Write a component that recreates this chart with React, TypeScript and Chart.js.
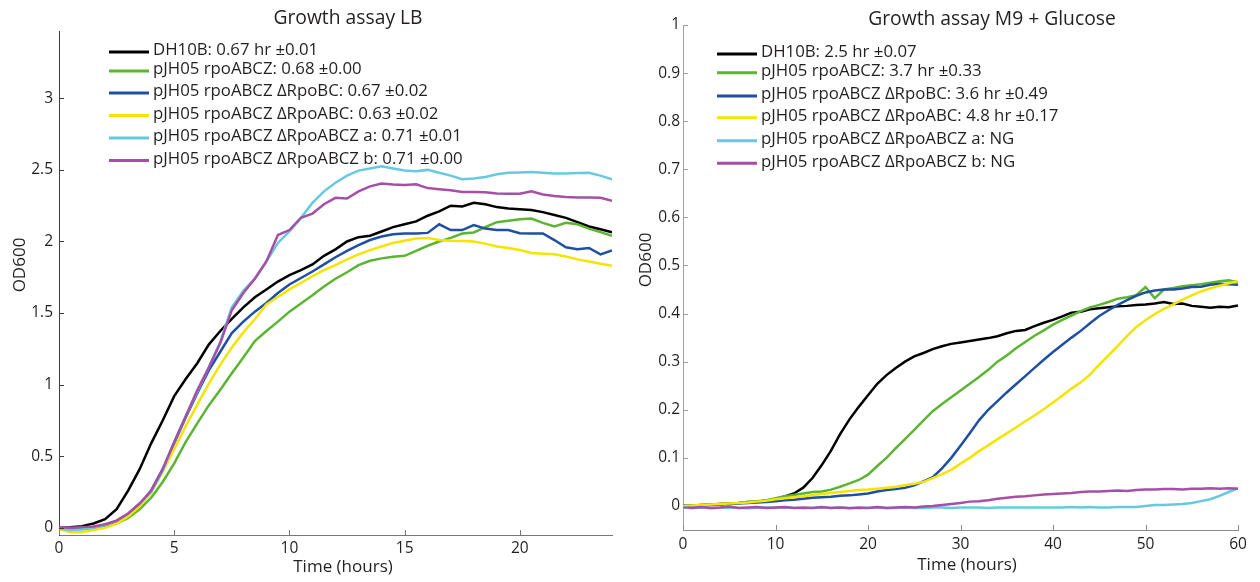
import React, { useEffect, useRef } from "react";
import { Chart, registerables } from "chart.js";

Chart.register(...registerables);

// ---------------- DATA ----------------
const LB_TIME = [
  0, 0.5, 1, 1.5, 2, 2.5, 3, 3.5, 4, 4.5, 5, 5.5, 6, 6.5, 7, 7.5, 8, 8.5, 9, 9.5,
  10, 10.5, 11, 11.5, 12, 12.5, 13, 13.5, 14, 14.5, 15, 15.5, 16, 16.5, 17, 17.5,
  18, 18.5, 19, 19.5, 20, 20.5, 21, 21.5, 22, 22.5, 23, 23.5, 24,
];

const LB_DH10B = [
  0.0, 0.005, 0.012, 0.03, 0.06, 0.13, 0.26, 0.41, 0.59, 0.75,
  0.92, 1.04, 1.15, 1.28, 1.375, 1.46, 1.54, 1.61, 1.665, 1.72,
  1.765, 1.8, 1.84, 1.9, 1.945, 2.0, 2.03, 2.04, 2.07, 2.1,
  2.12, 2.14, 2.18, 2.21, 2.25, 2.245, 2.27, 2.26, 2.24, 2.23,
  2.225, 2.22, 2.205, 2.185, 2.165, 2.135, 2.105, 2.085, 2.065,
];
const LB_RPOABCZ = [
  0.0, -0.005, -0.01, 0.0, 0.01, 0.03, 0.07, 0.13, 0.21, 0.32,
  0.45, 0.6, 0.73, 0.855, 0.965, 1.08, 1.19, 1.305, 1.375, 1.44,
  1.51, 1.567, 1.625, 1.686, 1.74, 1.785, 1.835, 1.865, 1.882, 1.893,
  1.9, 1.935, 1.97, 2.0, 2.025, 2.055, 2.063, 2.1, 2.135, 2.145,
  2.155, 2.16, 2.13, 2.105, 2.13, 2.12, 2.09, 2.065, 2.04,
];
const LB_DRPOBC = [
  0.0, -0.01, -0.005, 0.005, 0.02, 0.045, 0.09, 0.155, 0.26, 0.41,
  0.59, 0.77, 0.94, 1.1, 1.23, 1.36, 1.44, 1.51, 1.57, 1.64,
  1.7, 1.745, 1.79, 1.84, 1.89, 1.935, 1.975, 2.01, 2.035, 2.05,
  2.055, 2.056, 2.06, 2.12, 2.08, 2.08, 2.115, 2.09, 2.08, 2.08,
  2.058, 2.056, 2.056, 2.01, 1.96, 1.945, 1.955, 1.91, 1.937,
];
const LB_DRPOABC = [
  -0.01, -0.03, -0.03, -0.015, 0.0, 0.03, 0.08, 0.15, 0.245, 0.39,
  0.55, 0.71, 0.86, 1.005, 1.14, 1.26, 1.365, 1.457, 1.56, 1.612,
  1.665, 1.71, 1.757, 1.8, 1.835, 1.875, 1.91, 1.94, 1.965, 1.99,
  2.005, 2.02, 2.025, 2.01, 2.005, 2.003, 2.0, 1.985, 1.965, 1.955,
  1.94, 1.92, 1.915, 1.91, 1.895, 1.875, 1.86, 1.845, 1.83,
];
const LB_DRPOABCZ_A = [
  -0.005, -0.015, -0.01, 0.0, 0.02, 0.05, 0.1, 0.17, 0.25, 0.4,
  0.6, 0.78, 0.95, 1.12, 1.3, 1.54, 1.655, 1.74, 1.86, 1.99,
  2.07, 2.165, 2.27, 2.35, 2.41, 2.46, 2.495, 2.51, 2.525, 2.51,
  2.495, 2.49, 2.5, 2.48, 2.46, 2.435, 2.44, 2.45, 2.47, 2.48,
  2.482, 2.485, 2.48, 2.475, 2.475, 2.478, 2.48, 2.46, 2.435,
];
const LB_DRPOABCZ_B = [
  0.005, 0.0, 0.005, 0.01, 0.025, 0.05, 0.1, 0.17, 0.26, 0.41,
  0.6, 0.78, 0.96, 1.12, 1.29, 1.52, 1.64, 1.74, 1.86, 2.045,
  2.08, 2.165, 2.195, 2.26, 2.305, 2.3, 2.35, 2.385, 2.405, 2.398,
  2.395, 2.4, 2.373, 2.365, 2.358, 2.345, 2.345, 2.343, 2.335, 2.333,
  2.333, 2.35, 2.328, 2.318, 2.31, 2.308, 2.308, 2.305, 2.285,
];

const M9_TIME = [
  0, 1, 2, 3, 4, 5, 6, 7, 8, 9, 10, 11, 12, 13, 14, 15, 16, 17, 18, 19, 20,
  21, 22, 23, 24, 25, 26, 27, 28, 29, 30, 31, 32, 33, 34, 35, 36, 37, 38, 39, 40,
  41, 42, 43, 44, 45, 46, 47, 48, 49, 50, 51, 52, 53, 54, 55, 56, 57, 58, 59, 60,
];

const M9_DH10B = [
  0.0, 0.001, 0.002, 0.003, 0.004, 0.005, 0.006, 0.008, 0.009, 0.011,
  0.014, 0.02, 0.026, 0.038, 0.058, 0.085, 0.115, 0.15, 0.18, 0.206,
  0.23, 0.254, 0.272, 0.287, 0.3, 0.311, 0.318, 0.326, 0.332, 0.337,
  0.34, 0.343, 0.346, 0.349, 0.353, 0.359, 0.364, 0.366, 0.374, 0.381,
  0.387, 0.394, 0.402, 0.404, 0.409, 0.411, 0.413, 0.415, 0.416, 0.418,
  0.419, 0.421, 0.424, 0.42, 0.421, 0.416, 0.414, 0.412, 0.414, 0.413, 0.417,
];
const M9_RPOABCZ = [
  0.0, 0.001, 0.002, 0.003, 0.004, 0.005, 0.006, 0.008, 0.01, 0.012,
  0.016, 0.02, 0.023, 0.026, 0.029, 0.03, 0.034, 0.04, 0.047, 0.054,
  0.065, 0.083, 0.1, 0.12, 0.139, 0.158, 0.178, 0.197, 0.212, 0.226,
  0.24, 0.254, 0.268, 0.283, 0.3, 0.313, 0.328, 0.341, 0.354, 0.365,
  0.377, 0.387, 0.396, 0.405, 0.413, 0.418, 0.424, 0.431, 0.434, 0.438,
  0.455, 0.432, 0.45, 0.453, 0.457, 0.459, 0.461, 0.464, 0.467, 0.469, 0.465,
];
const M9_DRPOBC = [
  0.0, 0.0, 0.001, 0.002, 0.003, 0.004, 0.005, 0.006, 0.007, 0.008,
  0.01, 0.012, 0.013, 0.015, 0.017, 0.018, 0.019, 0.021, 0.022, 0.024,
  0.026, 0.03, 0.033, 0.035, 0.038, 0.043, 0.051, 0.06, 0.078, 0.1,
  0.125, 0.151, 0.178, 0.2, 0.218, 0.236, 0.253, 0.27, 0.287, 0.304,
  0.32, 0.335, 0.35, 0.364, 0.38, 0.395, 0.407, 0.418, 0.428, 0.437,
  0.444, 0.448, 0.45, 0.45, 0.452, 0.455, 0.456, 0.46, 0.462, 0.461, 0.46,
];
const M9_DRPOABC = [
  0.0, 0.001, 0.002, 0.003, 0.004, 0.005, 0.006, 0.007, 0.009, 0.011,
  0.014, 0.016, 0.018, 0.02, 0.023, 0.025, 0.027, 0.029, 0.031, 0.033,
  0.034, 0.036, 0.038, 0.04, 0.043, 0.046, 0.05, 0.058, 0.066, 0.075,
  0.088, 0.1, 0.114, 0.126, 0.139, 0.151, 0.163, 0.176, 0.188, 0.201,
  0.215, 0.229, 0.244, 0.257, 0.273, 0.294, 0.313, 0.333, 0.353, 0.372,
  0.386, 0.399, 0.41, 0.419, 0.429, 0.438, 0.446, 0.452, 0.458, 0.463, 0.467,
];
const M9_DRPOABCZ_A = [
  -0.003, -0.004, -0.003, -0.005, -0.004, -0.003, -0.004, -0.005, -0.004, -0.003,
  -0.004, -0.003, -0.004, -0.005, -0.004, -0.003, -0.004, -0.003, -0.004, -0.005,
  -0.004, -0.003, -0.004, -0.004, -0.003, -0.004, -0.004, -0.003, -0.003, -0.004,
  -0.003, -0.003, -0.003, -0.004, -0.003, -0.003, -0.003, -0.003, -0.003, -0.003,
  -0.003, -0.003, -0.002, -0.003, -0.002, -0.003, -0.003, -0.002, -0.002, -0.002,
  0.0, 0.002, 0.002, 0.003, 0.004, 0.006, 0.01, 0.014, 0.021, 0.029, 0.037,
];
const M9_DRPOABCZ_B = [
  -0.002, -0.004, -0.002, -0.004, -0.003, -0.001, -0.004, -0.003, -0.002, -0.004,
  -0.003, -0.002, -0.004, -0.003, -0.004, -0.002, -0.004, -0.003, -0.005, -0.003,
  -0.004, -0.002, -0.004, -0.003, -0.002, -0.003, -0.001, 0.0, 0.002, 0.004,
  0.006, 0.009, 0.01, 0.012, 0.015, 0.017, 0.019, 0.02, 0.022, 0.024,
  0.025, 0.026, 0.027, 0.029, 0.03, 0.03, 0.031, 0.032, 0.031, 0.033,
  0.034, 0.034, 0.035, 0.035, 0.034, 0.036, 0.036, 0.037, 0.036, 0.037, 0.036,
];

const LB_LABELS = [
  "DH10B: 0.67 hr ±0.01",
  "pJH05 rpoABCZ: 0.68 ±0.00",
  "pJH05 rpoABCZ ΔRpoBC: 0.67 ±0.02",
  "pJH05 rpoABCZ ΔRpoABC: 0.63 ±0.02",
  "pJH05 rpoABCZ ΔRpoABCZ a: 0.71 ±0.01",
  "pJH05 rpoABCZ ΔRpoABCZ b: 0.71 ±0.00",
];
const M9_LABELS = [
  "DH10B: 2.5 hr ±0.07",
  "pJH05 rpoABCZ: 3.7 hr ±0.33",
  "pJH05 rpoABCZ ΔRpoBC: 3.6 hr ±0.49",
  "pJH05 rpoABCZ ΔRpoABC: 4.8 hr ±0.17",
  "pJH05 rpoABCZ ΔRpoABCZ a: NG",
  "pJH05 rpoABCZ ΔRpoABCZ b: NG",
];

const LB_X_TICKS = [0, 5, 10, 15, 20];
const LB_Y_TICKS = [0, 0.5, 1, 1.5, 2, 2.5, 3];
const M9_X_TICKS = [0, 10, 20, 30, 40, 50, 60];
const M9_Y_TICKS = [0, 0.1, 0.2, 0.3, 0.4, 0.5, 0.6, 0.7, 0.8, 0.9, 1];

// ---------------- STYLE ----------------
const SERIES_COLORS = ["#000000", "#5cb531", "#1f4fa3", "#f4e400", "#66c9e0", "#a64ea8"];
const FONT = '"Open Sans", "Liberation Sans", sans-serif';
const TEXT_COLOR = "#231f20";
const CANVAS_W = 630;
const CANVAS_H = 582;

type PanelSpec = {
  key: string;
  title: string;
  titleX: number;
  titleY: number;
  xTitle: string;
  xTitleX: number;
  xTitleY: number;
  yTitle: string;
  yTitleX: number;
  yTitleY: number;
  time: number[];
  series: number[][];
  labels: string[];
  xTicks: number[];
  yTicks: number[];
  xMin: number;
  xMax: number;
  yMin: number;
  yMax: number;
  area: { left: number; right: number; top: number; bottom: number };
  xAxisColor: string;
  yAxisColor: string;
  xTickPad: number;
  yTickPad: number;
  legendX0: number;
  legendX1: number;
  legendTextX: number;
  legendRows: number[];
};

const LB_PANEL: PanelSpec = {
  key: "lb",
  title: "Growth assay LB",
  titleX: 348,
  titleY: 19,
  xTitle: "Time (hours)",
  xTitleX: 343,
  xTitleY: 567,
  yTitle: "OD600",
  yTitleX: 20,
  yTitleY: 265,
  time: LB_TIME,
  series: [LB_DH10B, LB_RPOABCZ, LB_DRPOBC, LB_DRPOABC, LB_DRPOABCZ_A, LB_DRPOABCZ_B],
  labels: LB_LABELS,
  xTicks: LB_X_TICKS,
  yTicks: LB_Y_TICKS,
  xMin: 0,
  xMax: 24,
  yMin: -0.05,
  yMax: 3.47,
  area: { left: 59, right: 612, top: 31, bottom: 535 },
  xAxisColor: "#777777",
  yAxisColor: "#3c3c3c",
  xTickPad: 4,
  yTickPad: 6,
  legendX0: 109,
  legendX1: 149,
  legendTextX: 153,
  legendRows: [52, 71, 93, 115.5, 138, 160.5],
};

const M9_PANEL: PanelSpec = {
  key: "m9",
  title: "Growth assay M9 + Glucose",
  titleX: 362,
  titleY: 19.5,
  xTitle: "Time (hours)",
  xTitleX: 337,
  xTitleY: 565,
  yTitle: "OD600",
  yTitleX: 16,
  yTitleY: 260,
  time: M9_TIME,
  series: [M9_DH10B, M9_RPOABCZ, M9_DRPOBC, M9_DRPOABC, M9_DRPOABCZ_A, M9_DRPOABCZ_B],
  labels: M9_LABELS,
  xTicks: M9_X_TICKS,
  yTicks: M9_Y_TICKS,
  xMin: 0,
  xMax: 60,
  yMin: -0.05,
  yMax: 1,
  area: { left: 53, right: 608, top: 25, bottom: 530 },
  xAxisColor: "#8a8a8a",
  yAxisColor: "#a0a0a0",
  xTickPad: 5,
  yTickPad: 3,
  legendX0: 87,
  legendX1: 127,
  legendTextX: 131,
  legendRows: [54, 72.7, 96, 117.7, 140.7, 163.3],
};

function makeDecor(p: PanelSpec) {
  return {
    id: "decor_" + p.key,
    afterDraw(chart: any) {
      const ctx: CanvasRenderingContext2D = chart.ctx;
      const { left, bottom } = chart.chartArea;
      const xs = chart.scales.x;
      const ys = chart.scales.y;
      ctx.save();
      // inward tick marks
      ctx.lineWidth = 1;
      ctx.strokeStyle = p.xAxisColor;
      for (const t of xs.ticks) {
        const px = Math.round(xs.getPixelForValue(t.value)) + 0.5;
        ctx.beginPath();
        ctx.moveTo(px, bottom);
        ctx.lineTo(px, bottom - 5);
        ctx.stroke();
      }
      ctx.strokeStyle = p.yAxisColor;
      for (const t of ys.ticks) {
        const py = Math.round(ys.getPixelForValue(t.value)) + 0.5;
        ctx.beginPath();
        ctx.moveTo(left, py);
        ctx.lineTo(left + 5, py);
        ctx.stroke();
      }
      // titles
      ctx.fillStyle = TEXT_COLOR;
      ctx.textAlign = "center";
      ctx.textBaseline = "middle";
      ctx.font = `19.3px ${FONT}`;
      ctx.fillText(p.title, p.titleX, p.titleY);
      ctx.font = `17px ${FONT}`;
      ctx.fillText(p.xTitle, p.xTitleX, p.xTitleY);
      ctx.save();
      ctx.translate(p.yTitleX, p.yTitleY);
      ctx.rotate(-Math.PI / 2);
      ctx.fillText(p.yTitle, 0, 0);
      ctx.restore();
      // legend
      ctx.textAlign = "left";
      ctx.font = `16.8px ${FONT}`;
      chart.data.datasets.forEach((ds: any, i: number) => {
        const y = p.legendRows[i];
        ctx.strokeStyle = ds.borderColor;
        ctx.lineWidth = 3;
        ctx.lineCap = "butt";
        ctx.beginPath();
        ctx.moveTo(p.legendX0, y);
        ctx.lineTo(p.legendX1, y);
        ctx.stroke();
        ctx.fillStyle = TEXT_COLOR;
        ctx.fillText(ds.label, p.legendTextX, y - 1.5);
      });
      ctx.restore();
    },
  };
}

function buildConfig(p: PanelSpec): any {
  const tickFont = { family: FONT, size: 15.5 };
  return {
    type: "line",
    data: {
      datasets: p.series.map((s, i) => ({
        label: p.labels[i],
        data: p.time.map((t, j) => ({ x: t, y: s[j] })),
        borderColor: SERIES_COLORS[i],
        backgroundColor: SERIES_COLORS[i],
        borderWidth: 2.5,
        pointRadius: 0,
        tension: 0,
        fill: false,
        order: -i,
      })),
    },
    options: {
      animation: false,
      responsive: false,
      devicePixelRatio: 1,
      events: [],
      layout: {
        padding: { top: p.area.top, right: CANVAS_W - p.area.right, left: 0, bottom: 0 },
      },
      plugins: {
        legend: { display: false },
        tooltip: { enabled: false },
        title: { display: false },
      },
      scales: {
        x: {
          type: "linear",
          min: p.xMin,
          max: p.xMax,
          grid: { display: false, drawTicks: false },
          border: { display: true, color: p.xAxisColor, width: 1 },
          ticks: {
            font: tickFont,
            color: TEXT_COLOR,
            padding: p.xTickPad,
            autoSkip: false,
            maxRotation: 0,
            callback: (v: number) => String(v),
          },
          afterBuildTicks: (s: any) => {
            s.ticks = p.xTicks.map((v) => ({ value: v }));
          },
          afterFit: (s: any) => {
            s.height = CANVAS_H - p.area.bottom;
          },
        },
        y: {
          type: "linear",
          min: p.yMin,
          max: p.yMax,
          grid: { display: false, drawTicks: false },
          border: { display: true, color: p.yAxisColor, width: 1 },
          ticks: {
            font: tickFont,
            color: TEXT_COLOR,
            padding: p.yTickPad,
            autoSkip: false,
            callback: (v: number) => String(v),
          },
          afterBuildTicks: (s: any) => {
            s.ticks = p.yTicks.map((v) => ({ value: v }));
          },
          afterFit: (s: any) => {
            s.width = p.area.left;
          },
        },
      },
    },
    plugins: [makeDecor(p)],
  };
}

function Panel({ spec }: { spec: PanelSpec }) {
  const ref = useRef<HTMLCanvasElement>(null);
  useEffect(() => {
    if (!ref.current) return;
    const chart = new Chart(ref.current, buildConfig(spec));
    return () => chart.destroy();
  }, [spec]);
  return (
    <canvas
      ref={ref}
      width={CANVAS_W}
      height={CANVAS_H}
      style={{ display: "block", width: CANVAS_W, height: CANVAS_H }}
    />
  );
}

export default function App() {
  return (
    <div
      style={{
        position: "fixed",
        left: 0,
        top: 0,
        width: 1260,
        height: 582,
        display: "flex",
        background: "#ffffff",
      }}
    >
      <Panel spec={LB_PANEL} />
      <Panel spec={M9_PANEL} />
    </div>
  );
}
